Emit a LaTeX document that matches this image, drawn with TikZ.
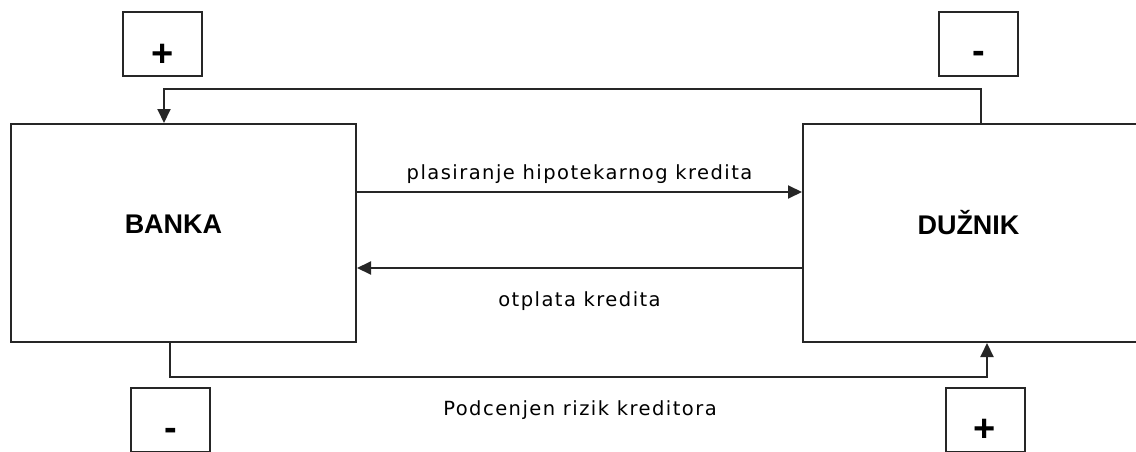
\documentclass[tikz,border=0pt]{standalone}
\usepackage{fontspec}
\usetikzlibrary{arrows.meta}
\newfontfamily\flowfont{DejaVu Sans}[LetterSpace=7.5]
\newfontfamily\headfont{Liberation Sans}[BoldFont={Liberation Sans Bold}]
\definecolor{ink}{HTML}{262626}
\tikzset{
  partybox/.style={draw=ink, line width=2pt, fill=white, inner sep=0pt},
  signbox/.style={draw=ink, line width=2pt, minimum width=79pt, minimum height=64pt, inner sep=0pt},
  conn/.style={draw=ink, line width=2pt},
  tip/.style={-{Triangle[length=14pt,width=13pt]}},
  flowtext/.style={font=\flowfont\fontsize{19.5}{22}\selectfont, text=black, inner sep=0pt},
  headtext/.style={font=\headfont\bfseries\fontsize{27}{30}\selectfont, text=black},
  signtext/.style={font=\headfont\bfseries\fontsize{38}{40}\selectfont, text=black}
}
\begin{document}
\begin{tikzpicture}[x=1pt, y=-1pt]
  \useasboundingbox (0,0) rectangle (1136,452);
  \clip (0,0) rectangle (1136,452);

  % the two parties
  \node[partybox, minimum width=345pt, minimum height=218pt,
        label={[headtext, xshift=-10pt, yshift=9pt]center:BANKA}] (banka) at (183.5,233) {};
  \node[partybox, minimum width=337pt, minimum height=218pt,
        label={[headtext, xshift=-3pt, yshift=10pt]center:DUŽNIK}] (duznik) at (971.5,233) {};

  % plus / minus markers
  \node[signbox, label={[signtext, yshift=-11pt]center:+}] (gainbank) at (162.5,44) {};
  \node[signbox, label={[signtext, yshift=-13pt]center:-}] (lossdebtor) at (978.5,44) {};
  \node[signbox, label={[signtext, yshift=-14pt]center:-}] (lossbank) at (170.5,420) {};
  \node[signbox, label={[signtext, yshift=-10pt]center:+}] (gaindebtor) at (985,420) {};

  % loan and repayment flows
  \draw[conn, tip] ([yshift=41pt]banka.east) -- ([yshift=41pt]duznik.west)
    node[flowtext, midway, yshift=18pt] (loanlbl) {plasiranje hipotekarnog kredita};
  \draw[conn, tip] ([yshift=-35pt]duznik.west) -- ([yshift=-35pt]banka.east)
    node[flowtext, midway, yshift=-33pt] (repaylbl) {otplata kredita};

  % feedback loops
  \draw[conn, tip] ([xshift=179pt]duznik.north west) -- ++(0,-34) -| ([xshift=154pt]banka.north west);
  \draw[conn, tip] ([xshift=160pt]banka.south west) -- ++(0,34) -| ([xshift=185pt]duznik.south west);
  \node[flowtext] (risklbl) at (580,410) {Podcenjen rizik kreditora};
\end{tikzpicture}
\end{document}
